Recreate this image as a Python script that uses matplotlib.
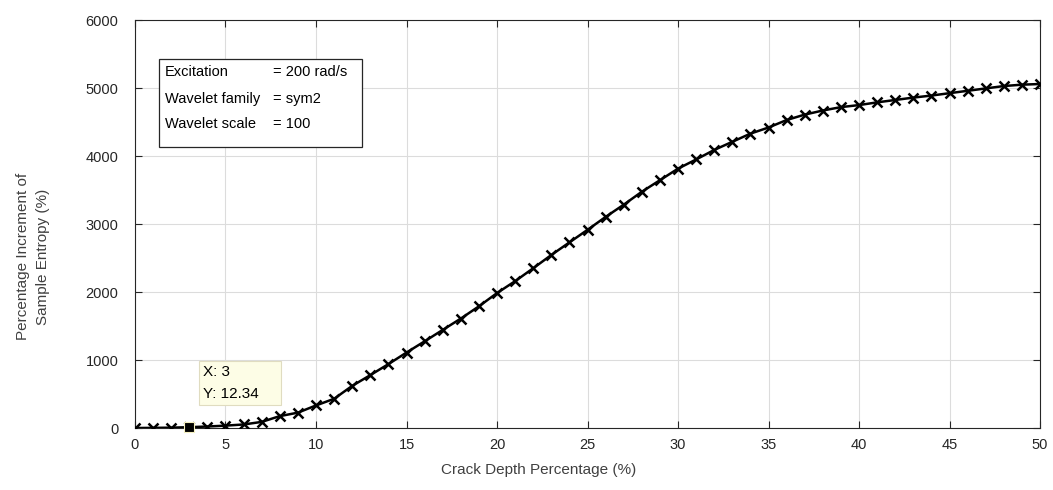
import matplotlib
matplotlib.use("Agg")
import matplotlib.pyplot as plt
from matplotlib.patches import Rectangle
from matplotlib.offsetbox import AnnotationBbox, TextArea, DrawingArea, HPacker

plt.rcParams['font.family'] = ['Liberation Sans', 'DejaVu Sans']

# data
crack_depth = list(range(0, 51))
entropy_incr = [0, 2, 5, 12.34, 22, 35, 52, 90, 175, 226,
                332, 430, 620, 778, 940, 1110, 1275, 1443, 1610, 1790,
                1985, 2160, 2350, 2545, 2730, 2915, 3105, 3285, 3475, 3645,
                3815, 3950, 4090, 4210, 4330, 4420, 4530, 4610, 4670, 4720,
                4750, 4790, 4825, 4860, 4890, 4925, 4960, 4995, 5030, 5050,
                5060]

tip_x = 3
tip_y = 12.34

info_names = ['Excitation', 'Wavelet family', 'Wavelet scale']
info_values = ['= 200 rad/s', '= sym2', '= 100']

fig = plt.figure(figsize=(10.53, 4.9), dpi=100)
ax = fig.add_axes([0.1282, 0.1265, 0.8595, 0.8325])

ax.plot(crack_depth, entropy_incr, color='black', linewidth=1.8,
        marker='x', markersize=6.5, markeredgewidth=1.8, zorder=3)

ax.set_xlim(0, 50)
ax.set_ylim(0, 6000)
ax.set_xticks(range(0, 51, 5))
ax.set_yticks(range(0, 6001, 1000))

# MATLAB style axes
ax.grid(True, color='#dcdcdc', linewidth=0.8)
ax.set_axisbelow(True)
ax.tick_params(direction='in', top=True, right=True, length=5,
               labelsize=10.5, colors='#262626', width=0.8)
ax.tick_params(axis='x', pad=7)
ax.tick_params(axis='y', pad=12)
for s in ax.spines.values():
    s.set_color('#262626')
    s.set_linewidth(0.8)

ax.set_xlabel('Crack Depth Percentage (%)', fontsize=11, color='#404040')
ax.xaxis.set_label_coords(0.446, -0.085)
ax.set_ylabel('Percentage Increment of\nSample Entropy (%)', fontsize=11,
              color='#404040', linespacing=1.5)
ax.yaxis.set_label_coords(-0.094, 0.42)

# info box
ax.add_patch(Rectangle((0.0265, 0.689), 0.2245, 0.215, transform=ax.transAxes,
                       facecolor='white', edgecolor='#262626', linewidth=0.9,
                       zorder=5))
rows_y = [0.8725, 0.806, 0.745]
for name, val, yy in zip(info_names, info_values, rows_y):
    ax.text(0.033, yy, name, transform=ax.transAxes, fontsize=10.5,
            va='center', ha='left', zorder=6)
    ax.text(0.1525, yy, val, transform=ax.transAxes, fontsize=10.5,
            va='center', ha='left', zorder=6)

# data tip, with a spacer so the box is wider than its text like MATLAB's
ax.plot([tip_x], [tip_y], marker='s', markersize=7, color='black',
        markeredgecolor='#f5f0c0', markeredgewidth=0.8, zorder=8,
        clip_on=False)
tip_text = TextArea(f'X: {tip_x}\nY: {tip_y}',
                    textprops=dict(fontsize=11, linespacing=1.7))
tip_box = HPacker(children=[tip_text, DrawingArea(13, 1)], pad=0, sep=0)
ab = AnnotationBbox(tip_box, (tip_x, tip_y), xybox=(14, 26),
                    xycoords='data', boxcoords='offset pixels',
                    box_alignment=(0, 0), pad=0.5, frameon=True,
                    bboxprops=dict(boxstyle='square', facecolor='#fdfde6',
                                   edgecolor='#e0dcc0', linewidth=0.8))
ab.set_zorder(7)
ax.add_artist(ab)

fig.savefig('out.png', dpi=100)
